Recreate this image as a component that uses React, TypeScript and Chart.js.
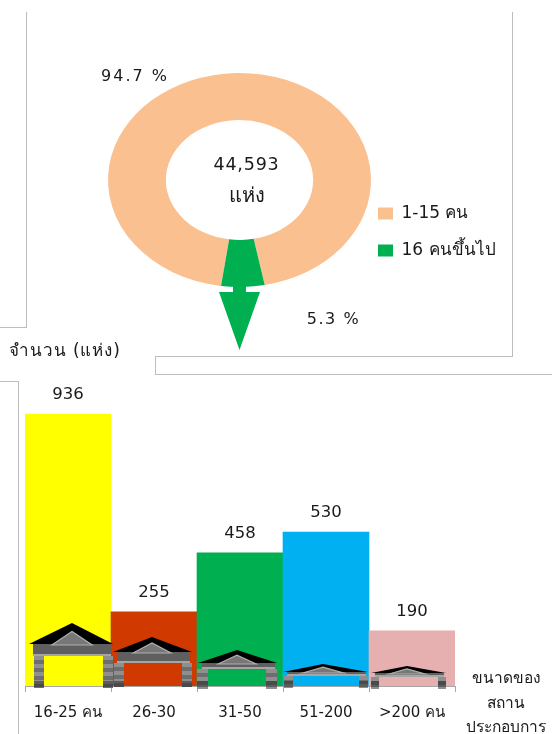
import React, { useEffect, useRef } from "react";
import { Chart, registerables } from "chart.js";

Chart.register(...registerables);

const SHARE_LABELS = ["1-15 คน", "16 คนขึ้นไป"];
const SHARE_COUNTS = [42224, 2369];
const SHARE_COLORS = ["#fac090", "#00b050"];
const SHARE_PERCENT = ["94.7 %", "5.3 %"];
const TOTAL_LINES = ["44,593", "แห่ง"];

const SIZE_LABELS = ["16-25 คน", "26-30", "31-50", "51-200", ">200 คน"];
const SIZE_COUNTS = [936, 255, 458, 530, 190];
const SIZE_COLORS = ["#ffff00", "#d03a00", "#00b050", "#00b0f0", "#e6b0b0"];
const Y_TITLE = "จำนวน (แห่ง)";
const X_TITLE = ["ขนาดของ", "สถาน", "ประกอบการ"];

const FONT = '"DejaVu Sans", "Noto Sans", sans-serif';
const TEXT = "#1a1a1a";

function put(ctx: any, s: string, x: number, y: number, size: number, align: any = "center", spacing = 0) {
  ctx.save();
  ctx.font = `${size}px ${FONT}`;
  ctx.fillStyle = TEXT;
  ctx.textAlign = align;
  ctx.textBaseline = "middle";
  ctx.letterSpacing = `${spacing}px`;
  ctx.fillText(s, x, y);
  ctx.restore();
}

const ringPlugin = {
  id: "ring",
  afterLayout(chart: any) {
    const l = chart.legend;
    l.left = 358;
    l.right = 545;
    l.top = 185;
    l.bottom = 400;
  },
  beforeDatasetsDraw(chart: any) {
    const { ctx, chartArea: a } = chart;
    const cx = (a.left + a.right) / 2;
    const cy = (a.top + a.bottom) / 2;
    ctx.save();
    ctx.translate(cx, cy);
    ctx.scale(1, 0.814);
    ctx.translate(-cx, -cy);
  },
  afterDatasetsDraw(chart: any) {
    const { ctx, chartArea: a } = chart;
    ctx.restore();
    const cx = (a.left + a.right) / 2;
    const cy = (a.top + a.bottom) / 2;
    ctx.save();
    ctx.fillStyle = SHARE_COLORS[1];
    ctx.fillRect(cx - 6.5, cy + 105, 13, 10);
    ctx.beginPath();
    ctx.moveTo(cx - 20.5, cy + 112);
    ctx.lineTo(cx + 20.5, cy + 112);
    ctx.lineTo(cx, cy + 170);
    ctx.closePath();
    ctx.fill();
    ctx.restore();
    put(ctx, SHARE_PERCENT[0], cx - 104.5, cy - 103, 16, "center", 2);
    put(ctx, SHARE_PERCENT[1], cx + 94, cy + 140, 16, "center", 1.6);
    put(ctx, TOTAL_LINES[0], cx + 7, cy - 15, 17.5, "center", 0.8);
    put(ctx, TOTAL_LINES[1], cx + 7, cy + 17, 20);
  },
};

const barDecor = {
  id: "barDecor",
  afterDatasetsDraw(chart: any) {
    const { ctx } = chart;
    const bars = chart.getDatasetMeta(0).data;
    // house at the foot of every bar: left, right, apex x, apex h, eave h, beam h, pillar w, pillar inset
    const shapes = [
      [4, 88, 47, 63, 42, 30, 10, 9],
      [2, 81, 41, 49, 34, 23, 10, 3],
      [1, 80, 40, 36, 23, 17, 11, 0],
      [0, 85, 40, 22, 14, 10, 9, 1],
      [2, 77, 38, 20, 13, 9, 8, 2],
    ];
    bars.forEach((b: any, i: number) => {
      const x0 = b.x - b.width / 2;
      const base = b.base;
      const [l, r, ax, ah, eh, bh, pw, inset] = shapes[i];
      const left = x0 + l, right = x0 + r, apex = x0 + ax;
      ctx.save();
      [x0 + inset, right - pw].forEach((px) => {
        for (let y = base - bh, k = 0; y < base + 1; y += 4, k++) {
          ctx.fillStyle = k % 2 ? "#6e6e6e" : "#8f8f8f";
          ctx.fillRect(px, y, pw, 4);
        }
        ctx.fillStyle = "rgba(30,30,30,0.45)";
        ctx.fillRect(px, base - 5, pw, 6);
      });
      ctx.fillStyle = "#5f5f5f";
      ctx.fillRect(left + 4, base - eh, right - left - 6, eh - bh);
      ctx.fillStyle = "#a5a5a5";
      ctx.fillRect(left + 4, base - bh - 2, right - left - 6, 2);
      ctx.fillStyle = "#000000";
      ctx.beginPath();
      ctx.moveTo(left, base - eh);
      ctx.lineTo(apex, base - ah);
      ctx.lineTo(right, base - eh);
      ctx.closePath();
      ctx.fill();
      const g = (ah - eh) * 0.6;
      ctx.fillStyle = "#777777";
      ctx.strokeStyle = "#b0b0b0";
      ctx.lineWidth = 1.2;
      ctx.beginPath();
      ctx.moveTo(apex - (right - left) * 0.24, base - eh + 1);
      ctx.lineTo(apex, base - eh - g);
      ctx.lineTo(apex + (right - left) * 0.24, base - eh + 1);
      ctx.closePath();
      ctx.fill();
      ctx.stroke();
      ctx.restore();
      put(ctx, String(SIZE_COUNTS[i]), b.x, b.y - 19, 16.5);
    });
    const top = chart.canvas.getBoundingClientRect().top;
    put(ctx, Y_TITLE, 9, 352 - top, 17, "left", 0.9);
    X_TITLE.forEach((s, i) => put(ctx, s, 506, [679, 704, 728][i] - top, 15.5));
  },
};

function App() {
  const ringRef = useRef<HTMLCanvasElement>(null);
  const barRef = useRef<HTMLCanvasElement>(null);

  useEffect(() => {
    const tilt = (SHARE_COUNTS[1] / (SHARE_COUNTS[0] + SHARE_COUNTS[1])) * 180;
    const ring = new Chart(ringRef.current as any, {
      type: "doughnut",
      data: {
        labels: SHARE_LABELS,
        datasets: [{ data: SHARE_COUNTS, backgroundColor: SHARE_COLORS, borderWidth: 0 }],
      },
      options: {
        responsive: false,
        animation: false,
        rotation: 180 + tilt - 1.5,
        radius: 131.5,
        cutout: "56%",
        layout: { padding: { left: 0, right: 73, top: 0, bottom: 20 } },
        plugins: {
          tooltip: { enabled: false },
          legend: {
            position: "chartArea",
            align: "start",
            labels: {
              boxWidth: 15,
              boxHeight: 12,
              padding: 20,
              color: TEXT,
              font: { family: FONT, size: 17 },
            },
          },
        },
      },
      plugins: [ringPlugin],
    } as any);

    const bar = new Chart(barRef.current as any, {
      type: "bar",
      data: {
        labels: SIZE_LABELS,
        datasets: [
          {
            data: SIZE_COUNTS,
            backgroundColor: SIZE_COLORS,
            borderWidth: 0,
            barPercentage: 1,
            categoryPercentage: 1,
          },
        ],
      },
      options: {
        responsive: false,
        animation: false,
        layout: { padding: { left: 25, right: 97, top: 55.4, bottom: 0 } },
        plugins: { legend: { display: false }, tooltip: { enabled: false } },
        scales: {
          y: { display: false, min: 0, max: 1000 },
          x: {
            afterFit(s: any) {
              s.height = 48;
            },
            border: { color: "#a6a6a6" },
            grid: {
              offset: true,
              drawOnChartArea: false,
              drawTicks: true,
              tickLength: 6,
              color: "#a6a6a6",
            },
            ticks: {
              color: TEXT,
              padding: 12,
              maxRotation: 0,
              autoSkip: false,
              font: { family: FONT, size: 15 },
            },
          },
        },
      },
      plugins: [barDecor],
    } as any);

    return () => {
      ring.destroy();
      bar.destroy();
    };
  }, []);

  const line = (left: number, top: number, width: number, height: number) => (
    <div style={{ position: "absolute", left, top, width, height, background: "#bdbdbd" }} />
  );

  return (
    <div
      style={{
        position: "absolute",
        left: 0,
        top: 0,
        width: 552,
        height: 734,
        overflow: "hidden",
        background: "#fff",
        filter: "blur(0.45px)",
      }}
    >
      {line(26, 12, 1, 316)}
      {line(0, 327, 27, 1)}
      {line(512, 12, 1, 345)}
      {line(155, 356, 358, 1)}
      {line(155, 356, 1, 19)}
      {line(155, 374, 397, 1)}
      {line(18, 381, 1, 353)}
      {line(0, 381, 19, 1)}
      <canvas ref={ringRef} width={552} height={380} style={{ position: "absolute", left: 0, top: 0 }} />
      <canvas ref={barRef} width={552} height={394} style={{ position: "absolute", left: 0, top: 340 }} />
    </div>
  );
}

export default App;
